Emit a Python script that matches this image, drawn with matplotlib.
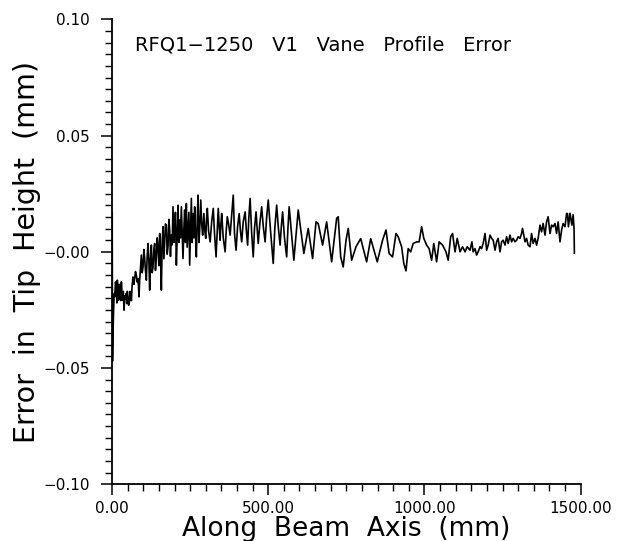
import matplotlib
matplotlib.use("Agg")
import matplotlib.pyplot as plt
from matplotlib.ticker import MultipleLocator, FixedLocator

# position along the beam axis (mm) and vane tip height error (mm)
x_mm = [
    0, 0.5, 1.5, 3, 5, 7, 8.5, 11, 13.9, 15.5, 17, 19, 21, 23, 25.6, 28, 29.9, 32, 34, 36,
    38.4, 40.5, 42.7, 45, 47, 49, 51, 53, 55.5, 57.5, 59.7, 62, 64, 65.5, 67, 70, 72.5, 75,
    77.9, 80.5, 83.2, 86.4, 88.5, 90.7,
    93.9, 96.5, 99.2, 102, 104.5, 107, 109.9, 112.5, 115.2, 118, 120.5, 123, 125.9, 128.5,
    131.2, 134, 136.5, 139, 141.9, 144.5, 147.2, 150, 152.5, 155, 157.9, 160.5, 163.2, 166,
    168.5, 171, 173.9, 176.5, 179.2, 182, 184.5, 187, 189.9, 192.5, 195.2, 198, 200.5, 203,
    205.9, 208.5, 211.2, 214, 216.5, 219, 221.9, 224.5, 227.2, 230, 232.5, 235, 237.9,
    240.5, 243.2, 246, 248.5, 251, 253.9, 256.5, 259.2, 262, 264.5, 267, 269.9, 272.5,
    275.2, 278, 280.5,
    284, 287, 290, 292, 294, 297, 300, 302.5, 305, 309, 314, 319, 324, 328, 333, 337, 340,
    343, 346, 348.5, 351, 356, 362, 365.5, 369, 373, 378, 383, 388, 392, 397, 402, 407, 411,
    415, 420, 426, 430, 434, 438, 442, 447, 452, 456, 461, 464.5, 468, 473, 479, 484, 490,
    495, 500, 508, 516, 521, 527, 532, 538, 542, 546, 552, 559, 563, 567,
    582, 596, 614, 628, 642, 653, 660, 674, 687, 703, 719, 724, 732, 740, 749, 756, 767,
    781, 796, 815, 828, 849,
    857, 866, 877, 887, 898, 909, 916, 927, 934, 941, 948, 956, 964, 975, 983, 991, 998,
    1007, 1015, 1023, 1030, 1039, 1047, 1058, 1069, 1076, 1084, 1090, 1098, 1105, 1114,
    1122, 1130, 1137, 1146, 1152,
    1156, 1162, 1167, 1172, 1178, 1183, 1188, 1194, 1199, 1204, 1210, 1215, 1220, 1226,
    1231, 1236, 1242, 1247, 1252, 1258, 1263, 1268, 1274, 1279, 1284, 1290, 1295, 1300,
    1306, 1311, 1314, 1322, 1327, 1332, 1338, 1343, 1348, 1354, 1359, 1364, 1370, 1375,
    1380, 1386, 1391, 1396, 1402, 1407, 1412, 1418, 1423, 1428, 1434, 1439, 1444, 1450,
    1455, 1458, 1461, 1466, 1472, 1476, 1479, 1480,
]
err_mm = [
    -0.046, 0.017, -0.047, -0.035, -0.025, -0.018, -0.0194, -0.013, -0.0151, -0.022,
    -0.0122, -0.017, -0.0208, -0.014, -0.0165, -0.021, -0.0129, -0.018, -0.0208, -0.017,
    -0.0251, -0.019, -0.0201, -0.018, -0.0223, -0.017, -0.0194, -0.023, -0.0216, -0.017,
    -0.0187, -0.021, -0.0151, -0.013, -0.0108, -0.014, -0.0115, -0.0085,
    -0.0101, -0.013, -0.0115, -0.0194, -0.012, -0.0079,
    -0.0014, -0.009, -0.0065, 0.001, -0.0029, -0.008, -0.0122, -0.002, 0.0036, -0.004,
    -0.0165, -0.003, 0.0029, -0.009,
    -0.0065, 0.001, 0.0036, -0.008, -0.0022, 0.006, 0.0022, -0.006, 0.0079, 0.001,
    -0.0165, 0.004, 0.0108, -0.003,
    0.005, 0.012, 0.0115, -0.001, 0.0022, 0.014, 0.0093, -0.002, 0.0072, 0.003, 0.0194,
    0.004, 0.0115, 0.017,
    -0.0057, 0.006, 0.0201, 0.004, 0.0137, 0.006, 0.0194, 0.008, -0.0029, 0.010, 0.018,
    0.004, 0.0208,
    0.002, 0.0093, 0.017, -0.0057, 0.008, 0.023, 0.004, 0.0165, 0.006, 0.0194, 0.008,
    -0.0022, 0.012,
    0.0244, 0.004, 0.0093,
    0.0223, 0.012, 0.0072, 0.012, 0.0165, 0.009, 0.0058, 0.014, 0.0187, 0.009, 0.0043,
    0.013, 0.0187, 0.008, -0.0022, 0.010, 0.0187,
    0.011, 0.005, 0.012, 0.0165, 0.006, 0.0, 0.009, 0.0151, 0.012, 0.0072, 0.016, 0.0244,
    0.008, 0.0007, 0.011, 0.0165, 0.009,
    0.0043, 0.013, 0.0172, 0.009, 0.0029, 0.015, 0.023, 0.008, -0.0022, 0.010, 0.0172,
    0.010, 0.0036, 0.012, 0.0194, 0.011, 0.0043,
    0.015, 0.0223, 0.008, -0.005, 0.010, 0.0201, 0.011, 0.0029, 0.011, 0.0172, 0.006,
    -0.0022, 0.010, 0.0194,
    -0.0036, 0.018, -0.0007, 0.0101, -0.0029, 0.0129, 0.0122, 0.0029, 0.0129, -0.0043,
    0.0144, 0.0151, -0.0022, -0.0065, 0.005, 0.0101, -0.0036,
    0.0022, 0.0057, -0.0043, 0.0057, -0.0043,
    0.0, 0.005, 0.0094, -0.0007, -0.0022, 0.0079, 0.0065, 0.0022, -0.005, -0.0082,
    0.0014, 0.0, 0.0036, 0.0043, 0.0043, 0.0108, 0.0058,
    0.0029, 0.0014, -0.0036, 0.0036, -0.0043, 0.0043, 0.0029, 0.0, -0.0036, 0.0065,
    0.0079, 0.0, 0.0058, 0.0,
    0.0022, 0.0, 0.0022, 0.0007, 0.0043,
    0.0, 0.0014, -0.0014, 0.0, 0.0022, 0.0014, 0.0036, 0.0079, 0.0007, 0.0029, 0.0072,
    0.0058, 0.005, 0.0007,
    0.0043, 0.0058, 0.0, 0.0043, 0.005, 0.0029, 0.0065, 0.0036, 0.0072, 0.0043, 0.0058,
    0.0043, 0.005, 0.0065,
    0.0058, 0.0079, 0.0101, 0.0043, 0.0058, 0.0029, 0.0022, 0.0079, 0.0036, 0.0058,
    0.0029, 0.0058, 0.0115, 0.0086,
    0.0122, 0.0072, 0.0129, 0.0151, 0.0079, 0.0115, 0.0108, 0.0122, 0.0079, 0.0129,
    0.0043, 0.0093, 0.0122, 0.0108,
    0.0165, 0.0165, 0.0108, 0.0166, 0.0115, 0.016, 0.010, -0.0006,
]

x_major = [0, 500, 1000, 1500]
x_labels = ["0.00", "500.00", "1000.00", "1500.00"]
y_major = [-0.10, -0.05, 0.0, 0.05, 0.10]
y_labels = ["\u22120.10", "\u22120.05", "\u22120.00", "0.05", "0.10"]

plt.rcParams["font.family"] = ["DejaVu Sans"]

fig = plt.figure(figsize=(6.19, 5.41), dpi=100)
ax = fig.add_axes([0.181, 0.105, 0.757, 0.859])

ax.plot(x_mm, err_mm, color="black", linewidth=1.2)

ax.set_xlim(0, 1500)
ax.set_ylim(-0.10, 0.10)

ax.spines["top"].set_visible(False)
ax.spines["right"].set_visible(False)
for s in ("left", "bottom"):
    ax.spines[s].set_linewidth(1.3)

ax.xaxis.set_major_locator(FixedLocator(x_major))
ax.set_xticklabels(x_labels)
ax.xaxis.set_minor_locator(MultipleLocator(50))
ax.yaxis.set_major_locator(FixedLocator(y_major))
ax.set_yticklabels(y_labels)
ax.yaxis.set_minor_locator(MultipleLocator(0.005))

ax.tick_params(which="major", direction="out", length=8, width=1.1, labelsize=11, pad=4)
ax.tick_params(axis="y", which="major", pad=8)
ax.tick_params(which="minor", direction="out", length=5, width=1.0)

ax.set_xlabel("Along  Beam  Axis  (mm)", fontsize=19, labelpad=0)
ax.set_ylabel("Error  in  Tip  Height  (mm)", fontsize=20.5, labelpad=2)

ax.text(0.05, 0.945, "RFQ1\u22121250   V1   Vane   Profile   Error", transform=ax.transAxes,
        fontsize=14, ha="left", va="center")

fig.savefig("out.png", dpi=100)
